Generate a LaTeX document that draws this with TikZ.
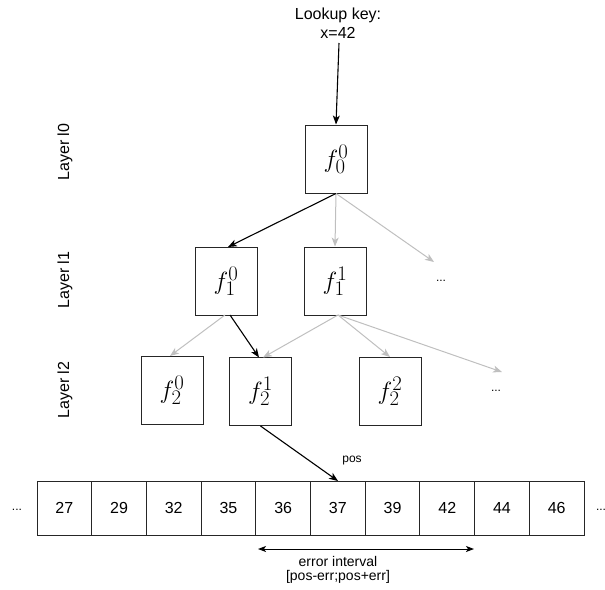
\documentclass[tikz,border=0pt]{standalone}
\usepackage{fontspec}
\setsansfont{Liberation Sans}
\usetikzlibrary{arrows.meta}
\begin{document}
\begin{tikzpicture}[x=1pt,y=-1pt,
  fbox/.style={draw=black!85,line width=1pt,minimum width=62pt,minimum height=68pt,inner sep=0pt,font=\fontsize{31}{34}\selectfont},
  cell/.style={draw=black!85,line width=1pt,minimum width=54.7pt,minimum height=54pt,inner sep=0pt,font=\sffamily\fontsize{16}{18}\selectfont},
  lbl/.style={font=\sffamily\fontsize{16}{19}\selectfont,align=center,inner sep=0pt},
  tip/.style={-{Stealth[length=9pt,width=7pt,inset=2.5pt]}},
  blk/.style={tip,line width=1.1pt,black},
  gry/.style={tip,line width=1pt,black!25},
  small/.style={font=\sffamily\fontsize{12}{14}\selectfont}]
\useasboundingbox (0,0) rectangle (605,589);
\node[lbl] (key) at (338,23.5) {Lookup key:\\x=42};
\node[lbl,rotate=90] (L0) at (65,152) {Layer l0};
\node[lbl,rotate=90] (L1) at (65,280) {Layer l1};
\node[lbl,rotate=90] (L2) at (65,390) {Layer l2};
\node[fbox] (f00) at (336,159) {$f_0^0$};
\node[fbox] (f10) at (226,281) {$f_1^0$};
\node[fbox] (f11) at (335,281) {$f_1^1$};
\node[fbox] (f20) at (172,390) {$f_2^0$};
\node[fbox] (f21) at (260.5,391.5) {$f_2^1$};
\node[fbox] (f22) at (390,391.5) {$f_2^2$};
\node[small] (d1) at (441,281) {...};
\node[small] (d2) at (496,391) {...};
\coordinate (e1) at (434,262);
\coordinate (e2) at (502,372);
\coordinate (e0) at (170,356);
\foreach \v [count=\i from 0] in {27,29,32,35,36,37,39,42,44,46}{
  \node[cell] (c\i) at ({64.35+54.7*\i},508) {\v};
}
\node[small] (dl) at (17,510) {...};
\node[small] (dr) at (601,510) {...};
\node[font=\sffamily\fontsize{12}{14}\selectfont,inner sep=0pt] (pos) at (352,461) {pos};
\coordinate (ai) at (258,549);
\coordinate (ao) at (474,549);
\node[lbl,font=\sffamily\fontsize{14}{14}\selectfont] (err) at (338,570) {error interval\\{}[pos-err;pos+err]};
% arrows
\draw[blk] (339,43) -- (f00.north);
\draw[gry] (f00.south) -- (f11.north);
\draw[gry] (f00.south) -- (e1);
\draw[blk] (f00.south) -- (228,247);
\draw[gry] (225,315) -- (e0);
\draw[gry] (338,315) -- (263,357.5);
\draw[gry] (338,315) -- (f22.north);
\draw[gry] (338,315) -- (e2);
\draw[blk] (230,315) -- (259,357.5);
\draw[blk] (f21.south) -- (338,481);
\draw[{Stealth[length=8pt,width=6pt,inset=2pt]}-{Stealth[length=8pt,width=6pt,inset=2pt]},line width=1pt] (ai) -- (ao);
\end{tikzpicture}
\end{document}
